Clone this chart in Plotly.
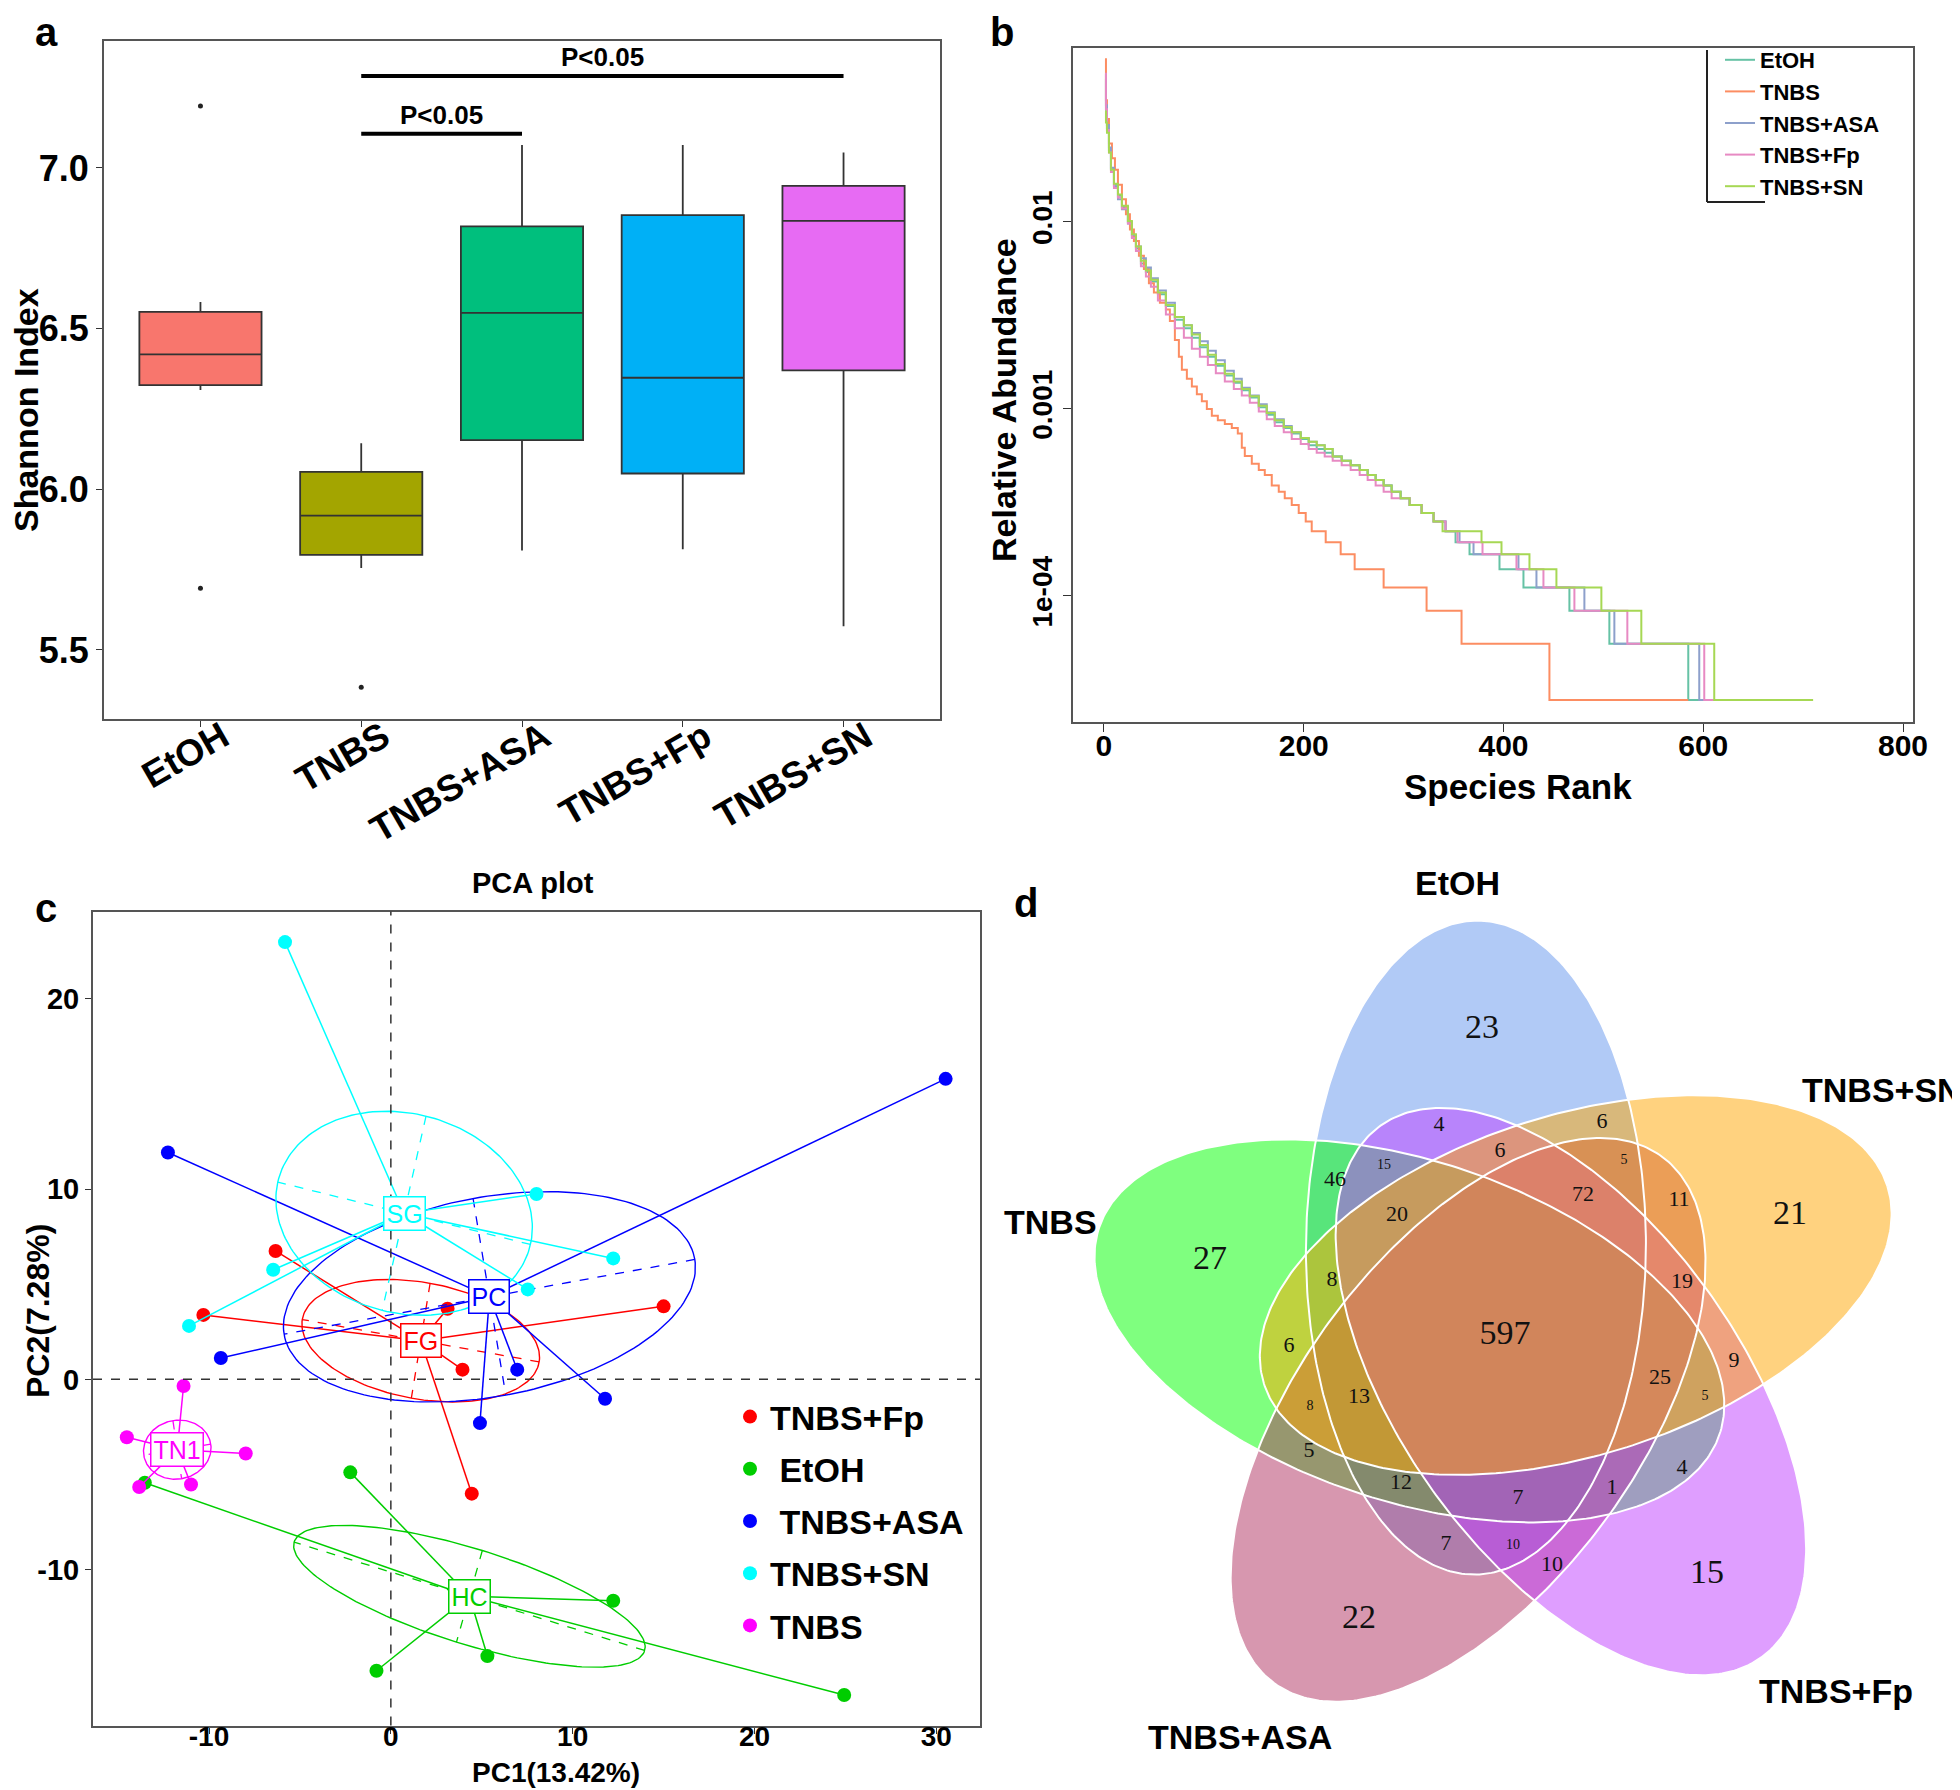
import numpy as np
import plotly.graph_objects as go

W, H = 1960, 1790
SANS = "Liberation Sans, Arial, Helvetica, sans-serif"
SERIF = "Liberation Serif, Times New Roman, serif"


def fx(p):
    return p / W


def fy(p):
    return 1 - p / H


# ---------------- Panel a : Shannon index ----------------
groups = ["EtOH", "TNBS", "TNBS+ASA", "TNBS+Fp", "TNBS+SN"]
shannon_lowerfence = [6.309, 5.755, 5.809, 5.813, 5.574]
shannon_q1 = [6.324, 5.796, 6.153, 6.049, 6.370]
shannon_median = [6.420, 5.918, 6.549, 6.347, 6.835]
shannon_q3 = [6.552, 6.054, 6.818, 6.853, 6.944]
shannon_upperfence = [6.583, 6.143, 7.071, 7.071, 7.048]
outlier_groups = ["EtOH", "EtOH", "TNBS"]
outlier_values = [7.193, 5.692, 5.384]
box_colors = ["#F8766D", "#A3A500", "#00BF7D", "#00B0F6", "#E76BF3"]
comparison_pairs = [("TNBS", "TNBS+ASA"), ("TNBS", "TNBS+SN")]
comparison_heights = [7.106, 7.286]
comparison_text = ["P<0.05", "P<0.05"]

# ---------------- Panel b : rank abundance ----------------
rank_etoh = [1, 2, 3, 5, 7, 10, 14, 18, 24, 28, 32, 37, 42, 47, 54, 62, 71, 80, 88, 96,
             104, 112, 121, 130, 138, 146, 155, 163, 171, 180, 188, 197, 205, 213, 221, 229, 238, 247, 256, 264,
             272, 280, 288, 297, 306, 318, 330, 342, 352, 366, 396, 420, 466, 506, 585, 680]
abund_etoh = [0.0617, 0.0398, 0.0316, 0.024, 0.0191, 0.0158, 0.0138, 0.012, 0.0100, 0.0083,
              0.0072, 0.0060, 0.0054, 0.0048, 0.0041, 0.00355, 0.0030, 0.0027, 0.0024, 0.00214,
              0.0019, 0.0017, 0.00151, 0.00138, 0.00126, 0.00115, 0.00102, 0.00093, 0.00085, 0.00079,
              0.00074, 0.00069, 0.000639, 0.000611, 0.000583, 0.000556, 0.000528, 0.0005, 0.000472, 0.000444,
              0.000417, 0.000389, 0.000361, 0.000333, 0.000306, 0.000278, 0.00025, 0.000222, 0.000194, 0.000167,
              0.000139, 0.000111, 0.0000833, 0.0000556, 0.0000278, 0.0000278]

rank_tnbs = [1, 2, 3, 5, 8, 11, 14, 18, 22, 26, 30, 35, 40, 45, 50, 56, 62, 66, 71, 75,
             78, 83, 88, 93, 98, 103, 108, 114, 121, 128, 134, 138, 141, 148, 155, 161, 168, 175, 181, 188,
             195, 202, 208, 222, 237, 251, 280, 323, 358, 446, 585]
abund_tnbs = [0.0741, 0.0447, 0.0355, 0.0263, 0.0219, 0.019, 0.0158, 0.0132, 0.011, 0.0091,
              0.0079, 0.0066, 0.0056, 0.0047, 0.0042, 0.0037, 0.0034, 0.00295, 0.00234, 0.0019,
              0.00162, 0.00145, 0.00132, 0.0012, 0.0011, 0.001, 0.00092, 0.00087, 0.00083, 0.00079,
              0.00074, 0.00062, 0.00056, 0.00051, 0.000472, 0.000444, 0.000389, 0.000361, 0.000333, 0.000306,
              0.000278, 0.00025, 0.000222, 0.000194, 0.000167, 0.000139, 0.000111, 0.0000833, 0.0000556, 0.0000278,
              0.0000278]

rank_asa = [1, 2, 3, 5, 7, 10, 14, 18, 24, 28, 32, 37, 42, 47, 54, 62, 71, 80, 88, 96,
            104, 112, 121, 130, 138, 146, 155, 163, 171, 180, 188, 197, 205, 213, 221, 229, 238, 247, 256, 264,
            272, 280, 288, 297, 306, 318, 330, 342, 356, 370, 415, 433, 481, 511, 596, 690]
abund_asa = [0.058, 0.042, 0.033, 0.025, 0.0195, 0.0155, 0.0132, 0.0117, 0.0098, 0.0085,
             0.0074, 0.0064, 0.0057, 0.0050, 0.0043, 0.0037, 0.0031, 0.0028, 0.00255, 0.0023,
             0.00205, 0.00182, 0.0016, 0.00145, 0.0013, 0.00118, 0.00106, 0.00096, 0.00088, 0.00081,
             0.00075, 0.0007, 0.000667, 0.000639, 0.000611, 0.000556, 0.000528, 0.0005, 0.000472, 0.000444,
             0.000417, 0.000389, 0.000361, 0.000333, 0.000306, 0.000278, 0.00025, 0.000222, 0.000194, 0.000167,
             0.000139, 0.000111, 0.0000833, 0.0000556, 0.0000278, 0.0000278]

rank_fp = [1, 2, 3, 5, 7, 10, 14, 18, 24, 28, 32, 37, 42, 47, 54, 62, 71, 80, 88, 96,
           104, 112, 121, 130, 138, 146, 155, 163, 171, 180, 188, 197, 205, 213, 221, 229, 238, 247, 256, 264,
           272, 280, 288, 297, 306, 318, 330, 342, 354, 379, 413, 440, 471, 524, 601, 700]
abund_fp = [0.062, 0.040, 0.031, 0.0235, 0.0185, 0.0152, 0.0135, 0.0118, 0.0098, 0.0082,
            0.0070, 0.0058, 0.0051, 0.0045, 0.0038, 0.0032, 0.0027, 0.0024, 0.0021, 0.0019,
            0.00172, 0.00155, 0.0014, 0.00128, 0.00118, 0.00108, 0.00097, 0.00088, 0.00081, 0.00075,
            0.00069, 0.00065, 0.000611, 0.000583, 0.000556, 0.000528, 0.0005, 0.000472, 0.000444, 0.000417,
            0.000389, 0.000361, 0.000333, 0.000333, 0.000306, 0.000278, 0.00025, 0.000222, 0.000194, 0.000167,
            0.000139, 0.000111, 0.0000833, 0.0000556, 0.0000278, 0.0000278]

rank_sn = [1, 2, 3, 5, 7, 10, 14, 18, 24, 28, 32, 37, 42, 47, 54, 62, 71, 80, 88, 96,
           104, 112, 121, 130, 138, 146, 155, 163, 171, 180, 188, 197, 205, 213, 221, 229, 238, 247, 256, 264,
           272, 280, 288, 297, 306, 318, 330, 339, 378, 398, 426, 453, 498, 538, 611, 710]
abund_sn = [0.039, 0.034, 0.030, 0.0235, 0.019, 0.016, 0.014, 0.0122, 0.0101, 0.0086,
            0.0074, 0.0062, 0.0055, 0.0049, 0.0042, 0.0036, 0.0031, 0.0028, 0.0025, 0.0022,
            0.00195, 0.00174, 0.00154, 0.0014, 0.00128, 0.00117, 0.00104, 0.00095, 0.00087, 0.0008,
            0.00075, 0.0007, 0.000667, 0.000639, 0.000611, 0.000556, 0.000528, 0.0005, 0.000472, 0.000444,
            0.000417, 0.000389, 0.000361, 0.000333, 0.000306, 0.000278, 0.00025, 0.000222, 0.000194, 0.000167,
            0.000139, 0.000111, 0.0000833, 0.0000556, 0.0000278, 0.0000278]

rank_series = ["EtOH", "TNBS", "TNBS+ASA", "TNBS+Fp", "TNBS+SN"]
rank_colors = ["#66C2A5", "#FC8D62", "#8DA0CB", "#E78AC3", "#A6D854"]
rank_x = [rank_etoh, rank_tnbs, rank_asa, rank_fp, rank_sn]
rank_y = [abund_etoh, abund_tnbs, abund_asa, abund_fp, abund_sn]

# ---------------- Panel c : PCA ----------------
pca_groups = ["TNBS+Fp", "EtOH", "TNBS+ASA", "TNBS+SN", "TNBS"]
pca_legend_names = ["TNBS+Fp", " EtOH", " TNBS+ASA", "TNBS+SN", "TNBS"]
pca_codes = ["FG", "HC", "PC", "SG", "TN1"]
pca_colors = ["#FF0000", "#00CD00", "#0000FF", "#00FFFF", "#FF00FF"]
pc1_fp = [-6.34, -10.31, 3.12, 15.00, 3.94, 4.45]
pc2_fp = [6.75, 3.39, 3.71, 3.84, 0.51, -6.01]
pc1_etoh = [-2.23, -13.53, 12.23, 5.31, -0.79, 24.93]
pc2_etoh = [-4.89, -5.44, -11.64, -14.55, -15.32, -16.60]
pc1_asa = [-12.26, 30.51, -9.35, 6.95, 4.90, 11.78]
pc2_asa = [11.93, 15.80, 1.12, 0.51, -2.30, -1.02]
pc1_sn = [-5.82, 8.01, 12.23, 7.53, -6.47, -11.10]
pc2_sn = [22.99, 9.75, 6.36, 4.73, 5.76, 2.81]
pc1_tnbs = [-11.40, -14.52, -7.98, -10.99, -13.84]
pc2_tnbs = [-0.35, -3.04, -3.90, -5.53, -5.66]
pc1_all = [pc1_fp, pc1_etoh, pc1_asa, pc1_sn, pc1_tnbs]
pc2_all = [pc2_fp, pc2_etoh, pc2_asa, pc2_sn, pc2_tnbs]
ELLIPSE_SCALE = 0.8

# ---------------- Panel d : Venn ----------------
venn_sets = ["EtOH", "TNBS", "TNBS+ASA", "TNBS+Fp", "TNBS+SN"]   # drawing order
venn_slot = [0, 4, 3, 2, 1]                                      # clockwise position from top
venn_fill = ["rgba(100,149,237,0.5)", "rgba(0,255,0,0.5)", "rgba(176,48,96,0.5)",
             "rgba(191,62,255,0.5)", "rgba(255,165,0,0.5)"]
venn_counts = [23, 4, 6, 6, 5, 15, 46, 72, 11, 21, 20, 27, 8, 19, 597, 6, 9, 25, 13, 5,
               8, 5, 4, 12, 1, 7, 7, 10, 10, 15, 22]
venn_label_x = [1474, 1431, 1594, 1492, 1616, 1376, 1327, 1575, 1671, 1782, 1389, 1202, 1324, 1674, 1497,
                1281, 1726, 1652, 1351, 1697, 1302, 1301, 1674, 1393, 1604, 1510, 1438, 1505, 1544, 1699, 1351]
venn_label_y = [1021, 1117, 1114, 1143, 1152, 1157, 1172, 1187, 1192, 1207, 1207, 1252, 1272, 1274, 1327,
                1338, 1353, 1370, 1389, 1388, 1398, 1443, 1460, 1475, 1480, 1490, 1536, 1537, 1557, 1566, 1611]
venn_label_size = [34, 22, 22, 22, 14, 14, 22, 22, 22, 34, 22, 34, 22, 22, 34,
                   22, 22, 22, 22, 14, 14, 22, 22, 22, 22, 22, 22, 14, 22, 34, 34]
VENN_CENTER = (1492.0, 1327.0)
VENN_OFFSET = 90.7
VENN_OFFSET_ANGLE = -105.4
VENN_AXIS_ANGLE = -89.6
VENN_A, VENN_B = 327.0, 170.0

fig = go.Figure()

# ---- panel a traces
for i, g in enumerate(groups):
    fig.add_trace(go.Box(
        x=[g], q1=[shannon_q1[i]], median=[shannon_median[i]], q3=[shannon_q3[i]],
        lowerfence=[shannon_lowerfence[i]], upperfence=[shannon_upperfence[i]],
        fillcolor=box_colors[i], line=dict(color="#333333", width=1.8),
        whiskerwidth=0, width=0.76, boxpoints=False, showlegend=False,
        hoverinfo="skip", xaxis="x", yaxis="y"))
fig.add_trace(go.Scatter(x=outlier_groups, y=outlier_values, mode="markers",
                         marker=dict(color="#222222", size=5), showlegend=False,
                         hoverinfo="skip", xaxis="x", yaxis="y"))
for (g1, g2), yv, txt in zip(comparison_pairs, comparison_heights, comparison_text):
    i1, i2 = groups.index(g1), groups.index(g2)
    fig.add_shape(type="line", xref="x", yref="y", x0=i1, x1=i2, y0=yv, y1=yv,
                  line=dict(color="black", width=4))
    fig.add_annotation(xref="x", yref="y", x=(i1 + i2) / 2, y=yv, text="<b>%s</b>" % txt,
                       showarrow=False, yanchor="bottom", yshift=2,
                       font=dict(family=SANS, size=26, color="black"))

# ---- panel b traces
for name, col, xs, ys in zip(rank_series, rank_colors, rank_x, rank_y):
    fig.add_trace(go.Scatter(x=xs, y=ys, mode="lines", name=name,
                             line=dict(color=col, width=2, shape="hv"),
                             xaxis="x2", yaxis="y2", legend="legend", hoverinfo="skip"))

# ---- panel c traces
t = np.linspace(0, 2 * np.pi, 181)
for g, lname, code, col, xs, ys in zip(pca_groups, pca_legend_names, pca_codes, pca_colors, pc1_all, pc2_all):
    X = np.asarray(xs, dtype=float)
    Y = np.asarray(ys, dtype=float)
    cx, cy = X.mean(), Y.mean()
    cov = np.cov(np.vstack([X, Y]), bias=True)
    ev, evec = np.linalg.eigh(cov)
    radii = ELLIPSE_SCALE * np.sqrt(np.clip(ev, 0, None))
    pts = evec @ (radii[:, None] * np.vstack([np.cos(t), np.sin(t)]))
    fig.add_trace(go.Scatter(x=cx + pts[0], y=cy + pts[1], mode="lines",
                             line=dict(color=col, width=1.4), showlegend=False,
                             hoverinfo="skip", xaxis="x3", yaxis="y3"))
    axx, axy = [], []
    for j in range(2):
        v = evec[:, j] * radii[j]
        axx += [cx - v[0], cx + v[0], None]
        axy += [cy - v[1], cy + v[1], None]
    fig.add_trace(go.Scatter(x=axx, y=axy, mode="lines",
                             line=dict(color=col, width=1.3, dash="dash"), showlegend=False,
                             hoverinfo="skip", xaxis="x3", yaxis="y3"))
    sx, sy = [], []
    for px_, py_ in zip(X, Y):
        sx += [cx, px_, None]
        sy += [cy, py_, None]
    fig.add_trace(go.Scatter(x=sx, y=sy, mode="lines", line=dict(color=col, width=1.5),
                             showlegend=False, hoverinfo="skip", xaxis="x3", yaxis="y3"))
    fig.add_trace(go.Scatter(x=X, y=Y, mode="markers", name=lname, legendgroup=g,
                             marker=dict(color=col, size=14), legend="legend2",
                             xaxis="x3", yaxis="y3", hoverinfo="skip"))
    fig.add_annotation(xref="x3", yref="y3", x=cx, y=cy, text=code, showarrow=False,
                       font=dict(family=SANS, size=25, color=col), bgcolor="white",
                       bordercolor=col, borderwidth=1.5, borderpad=2)

# ---- panel d traces
tt = np.linspace(0, 2 * np.pi, 361)
outlines = []
for name, slot, fill in zip(venn_sets, venn_slot, venn_fill):
    rot = np.deg2rad(72 * slot)
    ca = np.deg2rad(VENN_OFFSET_ANGLE) + rot
    ecx = VENN_CENTER[0] + VENN_OFFSET * np.cos(ca)
    ecy = VENN_CENTER[1] + VENN_OFFSET * np.sin(ca)
    aa = np.deg2rad(VENN_AXIS_ANGLE) + rot
    ux, uy = np.cos(aa), np.sin(aa)
    vx, vy = -uy, ux
    ex = ecx + VENN_A * np.cos(tt) * ux + VENN_B * np.sin(tt) * vx
    ey = ecy + VENN_A * np.cos(tt) * uy + VENN_B * np.sin(tt) * vy
    outlines.append((ex, ey))
    fig.add_trace(go.Scatter(x=ex, y=ey, mode="lines", fill="toself", fillcolor=fill,
                             line=dict(width=0, color="rgba(0,0,0,0)"), showlegend=False,
                             hoverinfo="skip", xaxis="x4", yaxis="y4"))
for ex, ey in outlines:
    fig.add_trace(go.Scatter(x=ex, y=ey, mode="lines", line=dict(color="white", width=2),
                             showlegend=False, hoverinfo="skip", xaxis="x4", yaxis="y4"))
fig.add_trace(go.Scatter(x=venn_label_x, y=venn_label_y, mode="text",
                         text=[str(c) for c in venn_counts], textposition="middle center",
                         textfont=dict(family=SERIF, size=venn_label_size, color="#111111"),
                         showlegend=False, hoverinfo="skip", xaxis="x4", yaxis="y4"))
venn_set_labels = [("EtOH", 1449, 875, "center"), ("TNBS+SN", 1956, 1082, "right"),
                   ("TNBS", 1042, 1214, "center"), ("TNBS+Fp", 1828, 1683, "center"),
                   ("TNBS+ASA", 1232, 1729, "center")]
for txt, lx, ly, anc in venn_set_labels:
    fig.add_annotation(xref="x4", yref="y4", x=lx, y=ly, text="<b>%s</b>" % txt, showarrow=False,
                       xanchor=anc, font=dict(family=SANS, size=34, color="black"))

# ---- titles, panel letters
def label(text, x, y, size, angle=0):
    fig.add_annotation(xref="paper", yref="paper", x=fx(x), y=fy(y), text="<b>%s</b>" % text,
                       showarrow=False, textangle=angle, xanchor="center", yanchor="middle",
                       font=dict(family=SANS, size=size, color="black"))

label("a", 38, 24, 40)
label("b", 994, 24, 40)
label("c", 38, 900, 40)
label("d", 1018, 895, 40)
label("Shannon Index", 18, 402, 34, -90)
label("Relative Abundance", 996, 392, 34, -90)
label("Species Rank", 1510, 779, 35)
label("PCA plot", 525, 875, 29)
label("PC2(7.28%)", 30, 1303, 32, -90)
label("PC1(13.42%)", 548, 1764, 28)

# dashed zero lines in panel c
fig.add_shape(type="line", xref="x3", yref="y3 domain", x0=0, x1=0, y0=0, y1=1,
              line=dict(color="#333333", width=1.5, dash="dash"))
fig.add_shape(type="line", xref="x3 domain", yref="y3", x0=0, x1=1, y0=0, y1=0,
              line=dict(color="#333333", width=1.5, dash="dash"))

# partial legend frame of panel b
fig.add_shape(type="line", xref="paper", yref="paper", x0=fx(1699), x1=fx(1699), y0=fy(42), y1=fy(194),
              line=dict(color="#222222", width=2))
fig.add_shape(type="line", xref="paper", yref="paper", x0=fx(1699), x1=fx(1757), y0=fy(194), y1=fy(194),
              line=dict(color="#222222", width=2))

axis_common = dict(showgrid=False, zeroline=False, showline=True, mirror=True,
                   linecolor="#555555", linewidth=2, ticks="outside", tickcolor="#333333",
                   automargin=False)

fig.update_layout(
    width=W, height=H, autosize=False, template="none",
    margin=dict(l=0, r=0, t=0, b=0),
    paper_bgcolor="white", plot_bgcolor="white",
    font=dict(family=SANS, color="black"),
    showlegend=True,
    xaxis=dict(domain=[fx(96), fx(932)], anchor="y", type="category", categoryorder="array",
               categoryarray=groups, range=[-0.6, 4.6], tickangle=-30, ticklen=6,
               ticklabelshift=22, ticklabelstandoff=-26,
               tickfont=dict(family=SANS, size=37, color="black", weight="bold"), **axis_common),
    yaxis=dict(domain=[fy(711), fy(33)], anchor="x", range=[5.285, 7.395],
               tickvals=[5.5, 6.0, 6.5, 7.0], ticktext=["5.5", "6.0", "6.5", "7.0"], ticklen=6,
               tickfont=dict(family=SANS, size=36, color="black", weight="bold"), **axis_common),
    xaxis2=dict(domain=[fx(1065), fx(1905)], anchor="y2", range=[-31, 810],
                tickvals=[0, 200, 400, 600, 800], ticklen=8, ticklabelstandoff=-12,
                tickfont=dict(family=SANS, size=30, color="black", weight="bold"), **axis_common),
    yaxis2=dict(domain=[fy(714), fy(40)], anchor="x2", type="log", range=[-4.674, -1.07],
                tickvals=[1e-4, 1e-3, 1e-2], ticktext=["1e-04", "0.001", "0.01"], tickangle=-90,
                ticklen=8, tickfont=dict(family=SANS, size=28, color="black", weight="bold"),
                **axis_common),
    xaxis3=dict(domain=[fx(85), fx(972)], anchor="y3", range=[-16.38, 32.4],
                tickvals=[-10, 0, 10, 20, 30], ticktext=["-10", "0", "10", "20", "30"],
                ticklen=6, ticklabelstandoff=-21,
                tickfont=dict(family=SANS, size=28, color="black", weight="bold"), **axis_common),
    yaxis3=dict(domain=[fy(1717.5), fy(903.5)], anchor="x3", range=[-18.2, 24.6],
                tickvals=[-10, 0, 10, 20], ticktext=["-10", "0", "10", "20"], ticklen=6,
                tickfont=dict(family=SANS, size=29, color="black", weight="bold"), **axis_common),
    xaxis4=dict(domain=[0.5, 1.0], anchor="y4", range=[980, 1960], visible=False, fixedrange=True),
    yaxis4=dict(domain=[0.0, fy(840)], anchor="x4", range=[1790, 840], visible=False, fixedrange=True),
    legend=dict(x=fx(1712), y=fy(31), xanchor="left", yanchor="top", bgcolor="rgba(0,0,0,0)",
                borderwidth=0, font=dict(family=SANS, size=22, color="black", weight="bold"),
                traceorder="normal", itemwidth=30),
    legend2=dict(x=fx(722), y=fy(1380), xanchor="left", yanchor="top", bgcolor="rgba(0,0,0,0)",
                 borderwidth=0, font=dict(family=SANS, size=34, color="black", weight="bold"),
                 traceorder="grouped", tracegroupgap=5, itemsizing="trace"),
)

fig.write_html("out.html")
